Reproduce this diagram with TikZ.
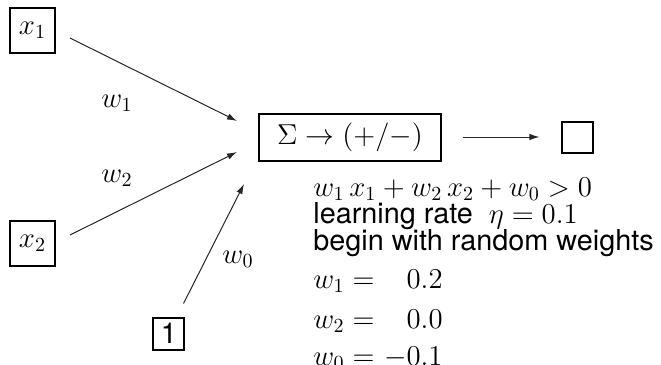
\documentclass[tikz,border=0pt]{standalone}
\usepackage{amsmath}
\usepackage{fontspec}
\setsansfont{TeX Gyre Heros}
\usepackage{tikz}
\usetikzlibrary{arrows.meta}
\definecolor{tinta}{HTML}{000000}
\definecolor{trazo}{HTML}{262626}
\tikzset{
  entrada/.style={draw=tinta,line width=1pt,inner sep=0pt,minimum width=22.5pt,minimum height=22.5pt},
  unidad/.style={draw=tinta,line width=1pt,inner sep=0pt,minimum width=15.5pt,minimum height=16pt,font=\Large\sffamily},
  sumador/.style={draw=tinta,line width=1pt,inner sep=0pt,minimum width=91pt,minimum height=23.5pt},
  salida/.style={draw=tinta,line width=1pt,inner sep=0pt,minimum width=15.5pt,minimum height=15.5pt},
  flecha/.style={draw=trazo,line width=0.5pt,-{Latex[length=5pt,width=3.2pt]}},
  peso/.style={inner sep=0pt,anchor=base west},
  texto/.style={inner sep=0pt,anchor=base west},
  valor/.style={inner sep=0pt,anchor=base east},
}

\begin{document}
\begin{tikzpicture}[x=0.5pt,y=-0.5pt,font=\Large]
  \useasboundingbox (0,0) rectangle (661,365);
  \node[entrada] (x1) at (32.5,30) {$x_1$};
  \node[entrada] (x2) at (32.5,243) {$x_2$};
  \node[unidad] (uno) at (169,333.5) {1};
  \node[sumador] (suma) at (350,137) {$\Sigma \to (+/-)$};
  \node[salida] (sal) at (578,137) {};
  \coordinate (in1) at (237,121);
  \coordinate (in2) at (237,152);
  \coordinate (in0) at (244,184);
  \draw[flecha] ([shift={(14,8)}]x1.east) -- (in1);
  \draw[flecha] ([shift={(14,-8)}]x2.east) -- (in2);
  \draw[flecha] ([shift={(-2,-13)}]uno.north east) -- (in0);
  \draw[flecha,shorten <=10.5pt,shorten >=11pt] (suma.east) -- (sal.west);
  \node[peso] (lw1) at (101,107) {$w_1$};
  \node[peso] (lw2) at (101,182) {$w_2$};
  \node[peso] (lw0) at (222,263) {$w_0$};
  \node[texto] (regla) at (313,196) {$w_1\,x_1 + w_2\,x_2 + w_0 > 0$};
  \node[texto] (tasa) at (313,223) {\sffamily learning rate\ \ $\eta = 0.1$};
  \node[texto] (inicio) at (313,250) {\sffamily begin with random weights};
  \node[texto] (a1) at (313,288) {$w_1 =$};
  \node[valor] (v1) at (443,288) {$0.2$};
  \node[texto] (a2) at (313,328) {$w_2 =$};
  \node[valor] (v2) at (443,328) {$0.0$};
  \node[texto] (a0) at (313,365) {$w_0 =$};
  \node[valor] (v0) at (443,365) {$-0.1$};
\end{tikzpicture}
\end{document}
